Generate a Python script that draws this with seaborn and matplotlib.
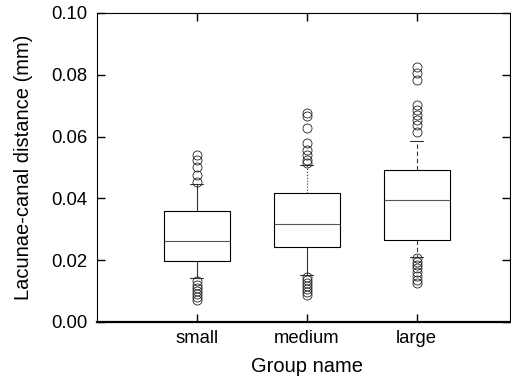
import numpy as np
import pandas as pd
import matplotlib
matplotlib.use('Agg')
import matplotlib.pyplot as plt
import seaborn as sns

groups = ['small', 'medium', 'large']

# box summary: 10th pct, q1, median, q3, 90th pct
small_stats = [0.0141, 0.0197, 0.0263, 0.0360, 0.0447]
medium_stats = [0.0152, 0.0242, 0.0316, 0.0417, 0.0508]
large_stats = [0.0211, 0.0265, 0.0395, 0.0492, 0.0585]

# points drawn beyond the whiskers
small_low = [0.0071, 0.0081, 0.0091, 0.0100, 0.0110, 0.0120, 0.0133]
small_high = [0.0453, 0.0476, 0.0502, 0.0524, 0.0540]
medium_low = [0.0087, 0.0097, 0.0107, 0.0117, 0.0126, 0.0136, 0.0146]
medium_high = [0.0515, 0.0524, 0.0540, 0.0557, 0.0578, 0.0627, 0.0667, 0.0675]
large_low = [0.0126, 0.0136, 0.0149, 0.0162, 0.0175, 0.0184, 0.0194, 0.0207]
large_high = [0.0616, 0.0638, 0.0654, 0.0670, 0.0686, 0.0702, 0.0783, 0.0805, 0.0826]


def build_sample(stats, low_out, high_out):
    """101 sorted values, so numpy percentile p falls on index p"""
    lo, q1, med, q3, hi = stats
    vals = list(low_out)
    vals += [lo] * (18 - len(low_out))
    vals += [q1] * 15
    vals += [med] * 35
    vals += [q3] * 15
    vals += [hi] * (18 - len(high_out))
    vals += list(high_out)
    return vals


samples = {
    'small': build_sample(small_stats, small_low, small_high),
    'medium': build_sample(medium_stats, medium_low, medium_high),
    'large': build_sample(large_stats, large_low, large_high),
}
df = pd.DataFrame([(g, v) for g in groups for v in samples[g]], columns=['group', 'value'])

sns.set_style('ticks')
plt.rcParams['font.family'] = ['Liberation Sans', 'DejaVu Sans']
plt.rcParams.update({
    'axes.axisbelow': False,
    'xtick.direction': 'in', 'ytick.direction': 'in',
    'xtick.top': True, 'ytick.right': True,
    'xtick.major.size': 6, 'ytick.major.size': 6,
    'xtick.major.width': 1.0, 'ytick.major.width': 1.0,
    'xtick.color': 'black', 'ytick.color': 'black',
    'axes.labelcolor': 'black', 'axes.edgecolor': 'black',
})

fig = plt.figure(figsize=(5.11, 3.81), dpi=100)
ax = fig.add_axes([0.190, 0.155, 0.808, 0.811])

sns.boxplot(data=df, x='group', y='value', order=groups, whis=(10, 90),
            width=0.6, color='white', linecolor='black', linewidth=0.8,
            capwidths=0.12, ax=ax,
            medianprops=dict(color='#555555', linewidth=0.8),
            whiskerprops=dict(color='#333333', linewidth=0.8),
            capprops=dict(color='#333333', linewidth=0.8),
            flierprops=dict(marker='o', markersize=6.5, markerfacecolor='none',
                            markeredgecolor='#222222', markeredgewidth=0.6))

# whisker styles differ per group in the original
bc = ax.containers[0]
bc.whiskers[3].set_linestyle(':')
bc.whiskers[4].set_linestyle((0, (4, 2.5)))
bc.whiskers[5].set_linestyle((0, (4, 2.5)))

ax.set_xlim(-0.906, 2.85)
ax.set_ylim(0, 0.10)
ax.set_axisbelow(False)

ax.tick_params(axis='y', which='major', direction='in', length=6, width=1.0,
               left=True, right=True, labelsize=13.3, pad=7)
ax.tick_params(axis='x', which='major', direction='in', length=6, width=1.0,
               bottom=True, top=True, labelsize=13.3, pad=6)
for t in ax.xaxis.get_major_ticks() + ax.yaxis.get_major_ticks():
    t.tick1line.set_zorder(5)
    t.tick2line.set_zorder(5)

ax.spines['bottom'].set_linewidth(1.6)

ax.set_xlabel('Group name', fontsize=14.5)
ax.set_ylabel('Lacunae-canal distance (mm)', fontsize=14.5)
ax.yaxis.set_label_coords(-0.155, 0.5)
ax.xaxis.set_label_coords(0.508, -0.113)

fig.savefig('out.png', dpi=100)
